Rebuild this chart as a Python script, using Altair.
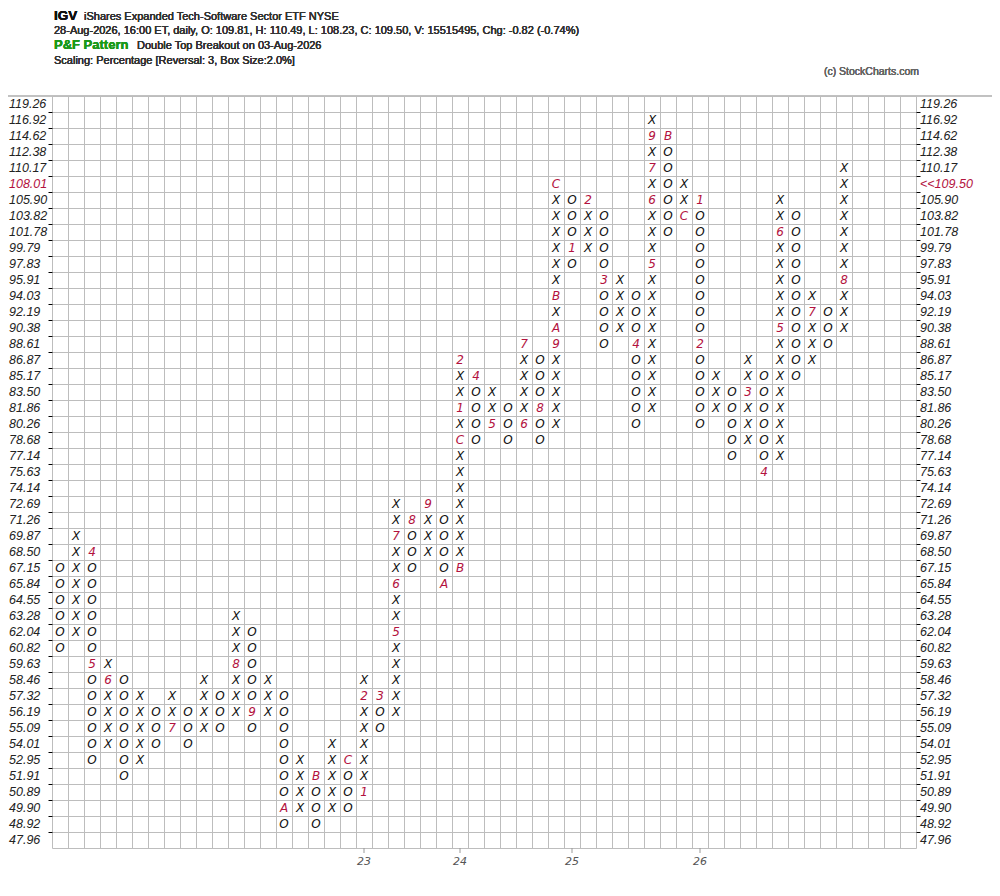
import altair as alt
import pandas as pd

# ---------------- data ----------------
levels = [47.96, 48.92, 49.90, 50.89, 51.91, 52.95, 54.01, 55.09, 56.19, 57.32,
          58.46, 59.63, 60.82, 62.04, 63.28, 64.55, 65.84, 67.15, 68.50, 69.87,
          71.26, 72.69, 74.14, 75.63, 77.14, 78.68, 80.26, 81.86, 83.50, 85.17,
          86.87, 88.61, 90.38, 92.19, 94.03, 95.91, 97.83, 99.79, 101.78, 103.82,
          105.90, 108.01, 110.17, 112.38, 114.62, 116.92, 119.26]

col_type = list("OXOXOXOXOXOXOXOXOXOXOXOXOXOXOXOXOXOXOXOXOXOXOXOXOX")

col_low = [60.82, 62.04, 52.95, 54.01, 51.91, 52.95, 54.01, 55.09, 54.01, 55.09,
           55.09, 56.19, 55.09, 56.19, 48.92, 49.90, 48.92, 49.90, 49.90, 50.89,
           55.09, 56.19, 67.15, 68.50, 65.84, 67.15, 78.68, 80.26, 78.68, 80.26,
           78.68, 80.26, 97.83, 99.79, 88.61, 90.38, 80.26, 81.86, 101.78, 103.82,
           80.26, 81.86, 77.14, 78.68, 75.63, 77.14, 85.17, 86.87, 88.61, 90.38]

col_high = [67.15, 69.87, 68.50, 59.63, 58.46, 57.32, 56.19, 57.32, 56.19, 58.46,
            57.32, 63.28, 62.04, 58.46, 57.32, 52.95, 51.91, 54.01, 52.95, 58.46,
            57.32, 72.69, 71.26, 72.69, 71.26, 86.87, 85.17, 83.50, 81.86, 88.61,
            86.87, 108.01, 105.90, 105.90, 103.82, 95.91, 94.03, 116.92, 114.62, 108.01,
            105.90, 85.17, 83.50, 86.87, 85.17, 105.90, 103.82, 94.03, 92.19, 110.17]

month_col = [2, 2, 3, 7, 11, 12, 14, 16, 18, 19, 19, 20, 21, 21, 21, 22, 23, 24,
             25, 25, 25, 25, 26, 27, 29, 29, 30, 31, 31, 31, 31, 32, 33, 34, 36,
             37, 37, 37, 37, 38, 39, 40, 40, 43, 44, 45, 45, 47, 49]
month_price = [68.50, 59.63, 58.46, 55.09, 59.63, 56.19, 49.90, 51.91, 52.95, 50.89,
               57.32, 57.32, 62.04, 65.84, 69.87, 71.26, 72.69, 65.84,
               67.15, 78.68, 81.86, 86.87, 85.17, 80.26, 80.26, 88.61, 81.86, 88.61,
               90.38, 94.03, 108.01, 99.79, 105.90, 95.91, 88.61,
               97.83, 105.90, 110.17, 114.62, 114.62, 103.82, 105.90, 88.61, 83.50,
               75.63, 90.38, 101.78, 92.19, 95.91]
month_label = ["4", "5", "6", "7", "8", "9", "A", "B", "C", "1", "2", "3", "5", "6",
               "7", "8", "9", "A", "B", "C", "1", "2", "4", "5", "6", "7", "8", "9",
               "A", "B", "C", "1", "2", "3", "4", "5", "6", "7", "9", "B", "C", "1",
               "2", "3", "4", "5", "6", "7", "8"]

year_col = [19, 25, 32, 40]
year_label = ["23", "24", "25", "26"]

last_close = 109.50

# ---------------- tables for the library ----------------
marks = {(c, levels.index(p)): t for c, p, t in zip(month_col, month_price, month_label)}
rows = []
for c, (t, lo, hi) in enumerate(zip(col_type, col_low, col_high)):
    for r in range(levels.index(lo), levels.index(hi) + 1):
        lab = marks.get((c, r))
        rows.append({"xc": c + 0.5, "yc": r + 0.5,
                     "ch": lab if lab else t,
                     "kind": "month" if lab else "box"})
cells = pd.DataFrame(rows)

box_row = max(i for i, v in enumerate(levels) if v <= last_close)
lab_df = pd.DataFrame({
    "yc": [i + 0.5 for i in range(len(levels))],
    "left": [f"{v:.2f}" for v in levels],
    "right": [f"<<{last_close:.2f}" if i == box_row else f"{v:.2f}" for i, v in enumerate(levels)],
    "hl": [i == box_row for i in range(len(levels))],
})
years = pd.DataFrame({"xc": [c + 0.5 for c in year_col], "yr": year_label})

NCOL, NROW = 54, len(levels)
W, H = NCOL * 16, NROW * 16
GRID = "#bdbdbd"
RED = "#b3123e"
xs = alt.Scale(domain=[0, NCOL], nice=False, zero=False)
ys = alt.Scale(domain=[0, NROW], nice=False, zero=False)

base_axis_x = alt.Axis(values=list(range(1, NCOL)), grid=True, gridColor=GRID,
                       gridOpacity=1, labels=False, ticks=False, domain=False, title=None)
base_axis_y = alt.Axis(values=list(range(1, NROW)), grid=True, gridColor=GRID,
                       gridOpacity=1, labels=False, ticks=True, tickColor="#000",
                       tickSize=4, domain=False, title=None, orient="left")

boxes = alt.Chart(cells).mark_text(
    font="DejaVu Sans", fontStyle="italic", fontSize=12, baseline="middle", align="center"
).encode(
    x=alt.X("xc:Q", scale=xs, axis=base_axis_x),
    y=alt.Y("yc:Q", scale=ys, axis=base_axis_y),
    text="ch:N",
    color=alt.Color("kind:N", scale=alt.Scale(domain=["box", "month"], range=["#111111", RED]),
                    legend=None),
)

left_labels = alt.Chart(lab_df).mark_text(
    font="Liberation Sans", fontStyle="italic", fontSize=12.5, align="left", baseline="middle"
).encode(
    x=alt.value(-43),
    y=alt.Y("yc:Q", scale=ys, axis=None),
    text="left:N",
    color=alt.condition("datum.hl", alt.value(RED), alt.value("#222222")),
)

right_labels = alt.Chart(lab_df).mark_text(
    font="Liberation Sans", fontStyle="italic", fontSize=12.5, align="left", baseline="middle"
).encode(
    x=alt.value(W + 4),
    y=alt.Y("yc:Q", scale=ys,
            axis=alt.Axis(values=list(range(1, NROW)), grid=False, labels=False, ticks=True,
                          tickColor="#000", tickSize=4, domain=False, title=None, orient="right")),
    text="right:N",
    color=alt.condition("datum.hl", alt.value(RED), alt.value("#222222")),
)

year_ticks = alt.Chart(years).mark_rule(color="#999999").encode(
    x=alt.X("xc:Q", scale=xs, axis=None), y=alt.value(H), y2=alt.value(H + 5))
year_text = alt.Chart(years).mark_text(
    font="DejaVu Sans", fontStyle="italic", fontSize=11, color="#555555", baseline="middle"
).encode(x=alt.X("xc:Q", scale=xs, axis=None), y=alt.value(H + 14), text="yr:N")

top_line = alt.Chart(years).mark_rule(color=GRID).encode(
    x=alt.value(-44), x2=alt.value(W + 76), y=alt.value(0))

HF = "Liberation Sans"
def hdr(txt, x, y, size=11, color="#333333", weight="normal", align="left", font=HF):
    return alt.Chart(years).mark_text(
        text=txt, font=font, fontSize=size, color=color, fontWeight=weight,
        align=align, baseline="alphabetic"
    ).encode(x=alt.value(x), y=alt.value(y))

headers = [
    hdr("IGV", 2, -76, size=13.5, color="#111111", weight="bold"),
    hdr("iShares Expanded Tech-Software Sector ETF  NYSE", 32, -76, size=11),
    hdr("28-Aug-2026, 16:00 ET, daily, O: 109.81, H: 110.49, L: 108.23, C: 109.50, "
        "V: 15515495, Chg: -0.82 (-0.74%)", 2, -62, size=11),
    hdr("P&F Pattern", 2, -47, size=13, color="#1a9a1a", weight="bold"),
    hdr("Double Top Breakout on 03-Aug-2026", 85, -47, size=11),
    hdr("Scaling: Percentage [Reversal: 3, Box Size:2.0%]", 2, -32, size=11),
    hdr("(c) StockCharts.com", 867, -21, size=10.5, color="#666666", align="right"),
]

chart = alt.layer(
    boxes, left_labels, right_labels, year_ticks, year_text, top_line, *headers
).resolve_axis(x="independent", y="independent").properties(
    width=W, height=H,
    autosize=alt.AutoSizeParams(type="none"),
    padding={"left": 44, "top": 88, "right": 76, "bottom": 40},
    background="white",
).configure_view(stroke=GRID, strokeWidth=1)

chart.save("out.html", embed_options={"renderer": "svg", "actions": False})
